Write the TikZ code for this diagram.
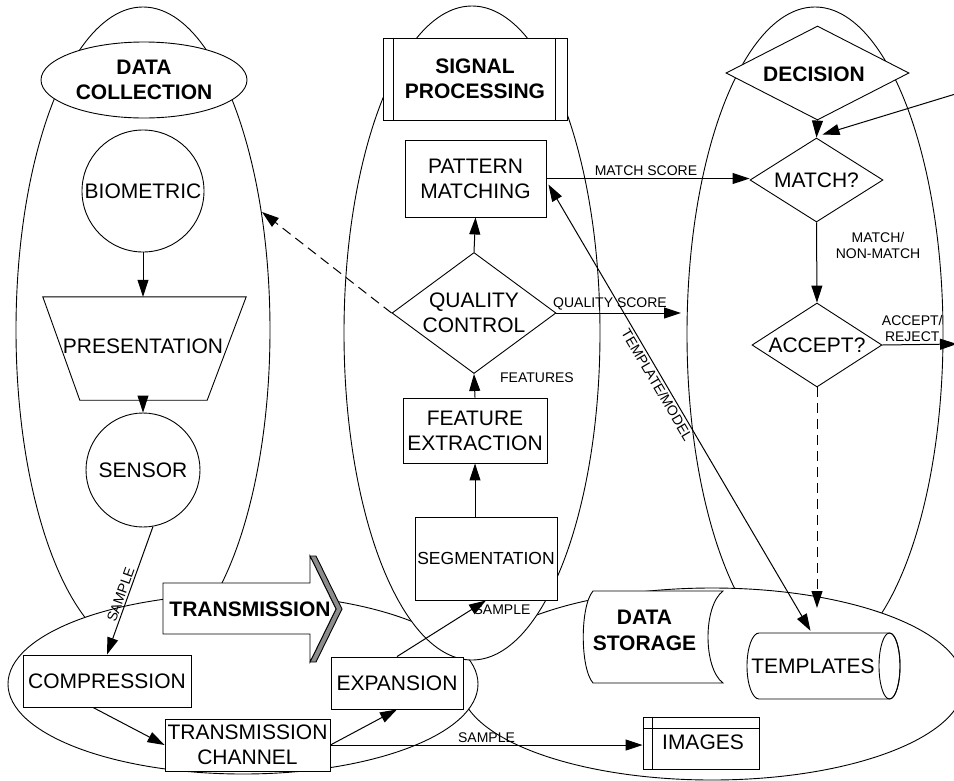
\documentclass[tikz,border=0pt]{standalone}
\usepackage{fontspec}
\setmainfont{Liberation Sans}
\usetikzlibrary{shapes.geometric,arrows.meta,calc}
\newcommand\dgbig{\fontsize{21}{25}\selectfont}
\newcommand\dgbold{\fontsize{21}{25.5}\selectfont\bfseries}
\newcommand\dglab{\fontsize{14}{16}\selectfont}
\tikzset{
  lw/.style={line width=0.9pt},
  ell/.style={draw, fill=white, line width=0.9pt},
  shp/.style={draw, fill=white, line width=0.9pt, align=center, font=\dgbig, inner sep=0pt},
  box/.style={shp, rectangle},
  txt/.style={font=\dgbig, align=center, inner sep=0pt},
  ttl/.style={font=\dgbold, align=center, inner sep=0pt},
  lbl/.style={font=\dglab, align=center, inner sep=2pt},
  arr/.style={line width=1pt, -{Triangle[length=17pt,width=11pt]}},
  dbl/.style={line width=1pt, {Triangle[length=17pt,width=11pt]}-{Triangle[length=17pt,width=11pt]}},
  dsh/.style={dash pattern=on 10pt off 6pt},
}
\begin{document}
\begin{tikzpicture}[x=1pt,y=-1pt]
\useasboundingbox (0,0) rectangle (954,780);
% group ellipses
\draw[ell] (143,330) ellipse [x radius=127pt, y radius=323pt];
\draw[ell] (815,334) ellipse [x radius=128pt, y radius=327pt];
\draw[ell] (712,684) ellipse [x radius=252pt, y radius=96pt];
\draw[ell] (243,684) ellipse [x radius=235pt, y radius=90pt];
\draw[ell] (472,333) ellipse [x radius=128pt, y radius=327pt];

% data collection
\node[shp, ellipse, minimum width=206pt, minimum height=76pt, font=\dgbold] (dc) at (144,80) {DATA\\COLLECTION};
\node[shp, circle, minimum size=122pt] (bio) at (143,191) {BIOMETRIC};
\node[minimum width=203pt, minimum height=103pt, inner sep=0pt] (pres) at (144.5,348.5) {};
\draw[lw, fill=white] (pres.north west) -- (pres.north east) -- ($(pres.south east)+(-39,0)$) -- ($(pres.south west)+(37,0)$) -- cycle;
\node[txt] (prest) at (143,346) {PRESENTATION};
\node[shp, circle, minimum size=114pt] (sens) at (143,470) {SENSOR};

% transmission
\node[box, minimum width=168pt, minimum height=52pt] (comp) at (107,681) {COMPRESSION};
\node[box, minimum width=165pt, minimum height=52pt] (tc) at (247.5,745) {TRANSMISSION\\CHANNEL};
\node[box, minimum width=132pt, minimum height=52pt] (exp) at (397,683) {EXPANSION};
\draw[lw, fill=black!45] (310,556) -- (316,556) -- (342,609) -- (316,662) -- (310,662) -- (336,609) -- cycle;
\draw[lw, fill=white] (163,583) -- (310,583) -- (310,556) -- (336,609) -- (310,662) -- (310,634) -- (163,634) -- cycle;
\node[ttl] (trans) at (250,609) {TRANSMISSION};

% signal processing
\node[box, minimum width=184pt, minimum height=82pt, font=\dgbold] (sp) at (475,79) {SIGNAL\\PROCESSING};
\draw[lw] ($(sp.north west)+(11,0)$) -- ($(sp.south west)+(11,0)$);
\draw[lw] ($(sp.north east)+(-12,0)$) -- ($(sp.south east)+(-12,0)$);
\node[box, minimum width=141pt, minimum height=77pt] (pm) at (475.5,178.5) {PATTERN\\MATCHING};
\node[shp, diamond, minimum width=164pt, minimum height=121pt] (qc) at (474,313) {};
\node[txt] (qct) at (qc) {QUALITY\\CONTROL};
\node[box, minimum width=144pt, minimum height=65pt] (fe) at (475,430.5) {FEATURE\\EXTRACTION};
\node[box, minimum width=142pt, minimum height=83pt, font=\fontsize{17.5}{21}\selectfont] (seg) at (486,558.5) {SEGMENTATION};

% decision
\node[shp, diamond, minimum width=183pt, minimum height=94pt] (dec) at (817.5,73) {};
\node[ttl] (dect) at (814,74) {DECISION};
\node[shp, diamond, minimum width=133pt, minimum height=84pt] (match) at (816.5,180) {};
\node[txt] (matcht) at (match) {MATCH?};
\node[shp, diamond, minimum width=130pt, minimum height=84pt] (acc) at (817,345) {};
\node[txt] (acct) at (acc) {ACCEPT?};

% data storage
\draw[lw, fill=white] (593,591) -- (723,591) .. controls (703,606) and (703,668) .. (723,683) -- (593,683) .. controls (580,668) and (580,606) .. (593,591) -- cycle;
\node[ttl] (ds) at (644.5,630.5) {DATA\\STORAGE};
% templates cylinder
\node[minimum width=153pt, minimum height=66pt, inner sep=0pt] (tmpl) at (823.5,666) {};
\draw[lw, fill=white] (759,633) -- (889.5,633) arc[start angle=90, end angle=-90, x radius=10.5pt, y radius=33pt] -- (759,699) arc[start angle=270, end angle=90, x radius=12pt, y radius=33pt] -- cycle;
\draw[lw] (889.5,666) ellipse [x radius=10.5pt, y radius=33pt];
\node[txt] (tmplt) at (813,666) {TEMPLATES};
\node[box, minimum width=116pt, minimum height=52pt] (img) at (701,743) {};
\draw[lw] ($(img.north west)+(10,0)$) -- ($(img.south west)+(10,0)$);
\draw[lw] ($(img.north west)+(0,12)$) -- ($(img.north east)+(0,12)$);
\node[txt] (imgt) at (703,742) {IMAGES};

% free ends
\coordinate (qsend) at (681,313);
\coordinate (dcend) at (262,212);
\coordinate (inend) at (962,92);
\coordinate (outend) at (957,344);
\coordinate (tmplend) at (817,608);

% connectors
\draw[arr] (bio.south) -- (pres.north -| bio.south);
\draw[arr] (pres.south -| sens.north) -- (sens.north);
\draw[arr] (sens.-80) -- node[lbl, sloped, above, pos=0.55] (l1) {SAMPLE} (comp.north);
\draw[arr] ($(comp.south)+(-14,0)$) -- (tc.west);
\draw[arr] (tc.east) -- (exp.south);
\draw[arr] (tc.east) -- node[lbl, above, pos=0.5] (l2) {SAMPLE} (tc.east -| img.west);
\draw[arr] (exp.north) -- (seg.south);
\node[lbl] (l3) at (502,610) {SAMPLE};
\draw[arr] (seg.north -| fe.south) -- (fe.south);
\draw[arr] (fe.north) -- (qc.south);
\node[lbl] (l4) at (537,378) {FEATURES};
\draw[arr] (qc.north) -- (pm.south);
\draw[arr] (pm.east) -- node[lbl, above, pos=0.49] (l5) {MATCH SCORE} (pm.east -| match.west);
\draw[arr] (qc.east) -- node[lbl, above, pos=0.43] (l6) {QUALITY SCORE} (qsend);
\draw[arr, dsh] (qc.west) -- (dcend);
\draw[dbl] ($(pm.east)+(2,6)$) -- node[lbl, sloped, below, pos=0.44] (l7) {TEMPLATE/MODEL} ($(tmpl.north)+(-13,-2)$);
\draw[arr] (dec.south) -- (match.north);
\draw[arr] (inend) -- ($(match.north)+(6,-3)$);
\draw[arr] (match.south) -- (acc.north);
\node[lbl] (l8) at (878,245) {MATCH/\\NON-MATCH};
\draw[arr] (acc.east) -- node[lbl, above, pos=0.4] (l9) {ACCEPT/\\REJECT} (outend);
\draw[arr, dsh] (acc.south) -- (tmplend);
\end{tikzpicture}
\end{document}
